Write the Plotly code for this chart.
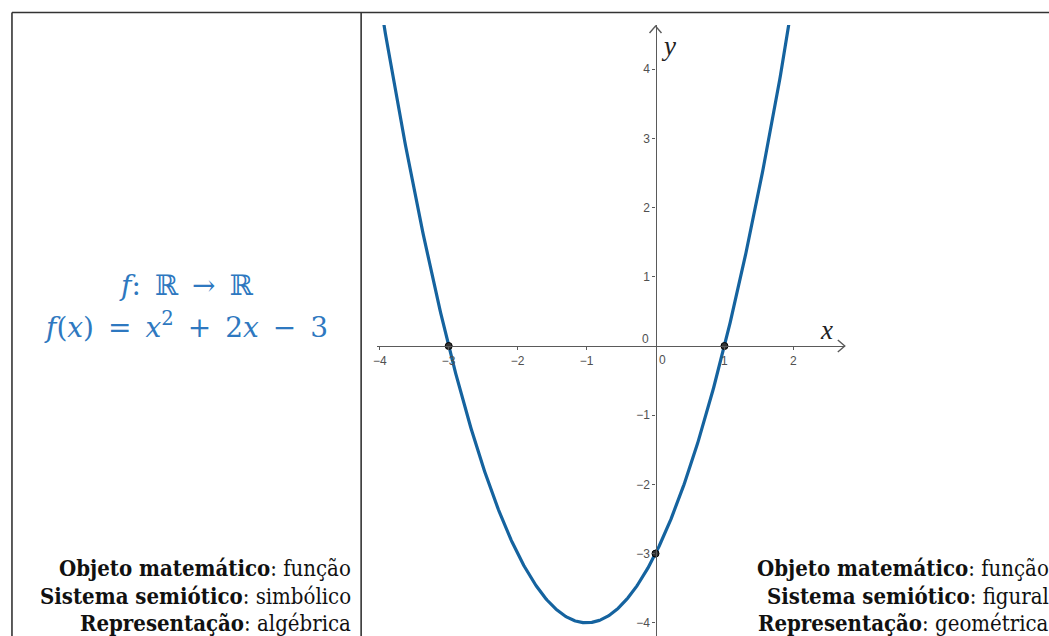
import numpy as np
import plotly.graph_objects as go

W, H = 1049, 636

# f(x) = a*x^2 + b*x + c
coef_a, coef_b, coef_c = 1, 2, -3
roots_x = [-3, 1]
intercept_y = coef_c

x_ticks = [-4, -3, -2, -1, 1, 2]
y_ticks = [-4, -3, -2, -1, 1, 2, 3, 4]

left_lines = [("Objeto matemático", ": função"),
              ("Sistema semiótico", ": simbólico"),
              ("Representação", ": algébrica")]
right_lines = [("Objeto matemático", ": função"),
               ("Sistema semiótico", ": figural"),
               ("Representação", ": geométrica")]

# graph geometry (pixels): origin and unit length
ox, oy, unit = 654, 346, 69.2
gx0, gx1 = 374, 844
gy_top = 25


def px(x):
    return x / W


def py(y):
    return 1 - y / H


def minus_label(v):
    return f"\u2212{-v}" if v < 0 else str(v)


xs = np.linspace(-4.2, 2.3, 600)
ys = coef_a * xs**2 + coef_b * xs + coef_c

fig = go.Figure()
fig.add_trace(go.Scatter(x=xs, y=ys, mode="lines",
                         line=dict(color="#15639f", width=3.2),
                         hoverinfo="skip", showlegend=False))
fig.add_trace(go.Scatter(x=roots_x + [0], y=[0, 0, intercept_y], mode="markers",
                         marker=dict(size=7, color="#333333",
                                     line=dict(color="#000000", width=1)),
                         showlegend=False))

tick_font = dict(family="Liberation Sans, Arial, sans-serif", size=12, color="#505050")

fig.update_layout(
    width=W, height=H,
    margin=dict(l=0, r=0, t=0, b=0),
    paper_bgcolor="white", plot_bgcolor="rgba(0,0,0,0)",
    xaxis=dict(domain=[px(gx0), px(gx1)],
               range=[(gx0 - ox) / unit, (gx1 - ox) / unit],
               anchor="free", position=py(oy),
               showline=True, linecolor="#5a5a5a", linewidth=1.4,
               ticks="outside", ticklen=3, tickwidth=1, tickcolor="#5a5a5a",
               tickvals=x_ticks, ticktext=[minus_label(v) for v in x_ticks],
               tickfont=tick_font, showgrid=False, zeroline=False),
    yaxis=dict(domain=[0, py(gy_top)],
               range=[(oy - H) / unit, (oy - gy_top) / unit],
               anchor="free", position=px(ox),
               showline=True, linecolor="#5a5a5a", linewidth=1.4,
               ticks="outside", ticklen=3, tickwidth=1, tickcolor="#5a5a5a",
               tickvals=y_ticks, ticktext=[minus_label(v) for v in y_ticks],
               tickfont=tick_font, showgrid=False, zeroline=False),
)

# table borders
border = dict(color="#333333", width=1.6)
fig.add_shape(type="line", xref="paper", yref="paper",
              x0=px(8), x1=px(W), y0=py(12.5), y1=py(12.5), line=border)
fig.add_shape(type="line", xref="paper", yref="paper",
              x0=px(8), x1=px(8), y0=py(12.5), y1=py(H), line=border)
fig.add_shape(type="line", xref="paper", yref="paper",
              x0=px(358.5), x1=px(358.5), y0=py(12.5), y1=py(H), line=border)

# axis arrow heads
arrow = dict(color="#5a5a5a", width=1.4)
fig.add_shape(type="path", xref="paper", yref="paper", line=arrow,
              path=f"M {px(gx1-7)} {py(oy-6)} L {px(gx1)} {py(oy)} L {px(gx1-7)} {py(oy+6)}")
fig.add_shape(type="path", xref="paper", yref="paper", line=arrow,
              path=f"M {px(ox-6)} {py(gy_top+8)} L {px(ox)} {py(gy_top+1)} L {px(ox+6)} {py(gy_top+8)}")

ann = []
# origin labels
ann.append(dict(x=px(661), y=py(360), xref="paper", yref="paper", text="0",
                xanchor="center", yanchor="middle", showarrow=False, font=tick_font))
ann.append(dict(x=px(644), y=py(339), xref="paper", yref="paper", text="0",
                xanchor="center", yanchor="middle", showarrow=False, font=tick_font))
# axis names
axis_font = dict(family="Liberation Serif, serif", size=27, color="#222222")
ann.append(dict(x=px(826), y=py(330), xref="paper", yref="paper", text="<i>x</i>",
                xanchor="center", yanchor="middle", showarrow=False, font=axis_font))
ann.append(dict(x=px(667), y=py(46), xref="paper", yref="paper", text="<i>y</i>",
                xanchor="center", yanchor="middle", showarrow=False, font=axis_font))

# formula (en spaces around the operators)
sp = "\u2002"
math_font = dict(family="DejaVu Serif, serif", size=28, color="#2e78c0")
ann.append(dict(x=px(183), y=py(285), xref="paper", yref="paper",
                xanchor="center", yanchor="middle",
                text=f"<i>f</i>:{sp}ℝ{sp}→{sp}ℝ", showarrow=False, font=math_font))
ann.append(dict(x=px(183), y=py(325), xref="paper", yref="paper",
                xanchor="center", yanchor="middle",
                text=f"<i>f</i>(<i>x</i>){sp}={sp}<i>x</i><sup>2</sup>{sp}+{sp}2<i>x</i>{sp}−{sp}3",
                showarrow=False, font=math_font))

# caption lines
cap_font = dict(family="DejaVu Serif Condensed, DejaVu Serif, serif", size=22, color="#111111")
line_y = [568, 596, 623]
for lines, xr in ((left_lines, 350), (right_lines, 1051)):
    for (bold, rest), yy in zip(lines, line_y):
        ann.append(dict(x=px(xr), y=py(yy), xref="paper", yref="paper",
                        xanchor="right", yanchor="middle",
                        text=f"<b>{bold}</b>{rest}", showarrow=False, font=cap_font))

fig.update_layout(annotations=ann)
fig.write_html("out.html")
